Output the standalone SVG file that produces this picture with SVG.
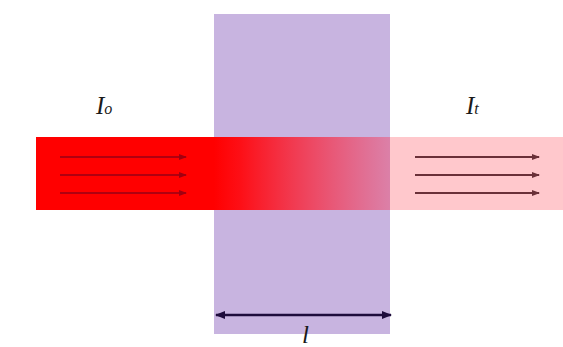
<svg xmlns="http://www.w3.org/2000/svg" width="563" height="347" viewBox="0 0 563 347">
<defs>
<linearGradient id="fade" x1="214" y1="0" x2="390" y2="0" gradientUnits="userSpaceOnUse">
<stop offset="0" stop-color="#ff0000" stop-opacity="1"/>
<stop offset="0.15" stop-color="#ff0a10" stop-opacity="0.97"/>
<stop offset="1" stop-color="#ff2040" stop-opacity="0.35"/>
</linearGradient>
<marker id="ahL" markerWidth="8" markerHeight="6" refX="7" refY="3" orient="auto" markerUnits="userSpaceOnUse"><path d="M0,0 L8,3 L0,6 Z" fill="#a00010"/></marker>
<marker id="ahR" markerWidth="8" markerHeight="6" refX="7" refY="3" orient="auto" markerUnits="userSpaceOnUse"><path d="M0,0 L8,3 L0,6 Z" fill="#6a3038"/></marker>
<marker id="ahD" markerWidth="10" markerHeight="8" refX="9" refY="4" orient="auto-start-reverse" markerUnits="userSpaceOnUse"><path d="M0,0 L10,4 L0,8 Z" fill="#1e0c3c"/></marker>
</defs>
<style>
.lab{font-family:"Liberation Serif",serif;font-style:italic;font-size:25px;fill:#1a1a1a}
.sub{font-size:16px}
.al{stroke:#b00010;stroke-width:2;marker-end:url(#ahL)}
.ar{stroke:#6a3038;stroke-width:2;marker-end:url(#ahR)}
</style>
<rect width="563" height="347" fill="#ffffff"/>
<g id="slab"><rect x="214" y="14" width="176" height="320" fill="#c8b4e0"/></g>
<g id="beam-in"><rect x="36" y="137" width="178" height="73" fill="#ff0000"/></g>
<g id="beam-slab"><rect x="214" y="137" width="176" height="73" fill="url(#fade)"/></g>
<g id="beam-out"><rect x="390" y="137" width="173" height="73" fill="#ffc8cc"/></g>
<g id="connectors">
<line class="al" x1="60" y1="157" x2="186" y2="157"/>
<line class="al" x1="60" y1="175" x2="186" y2="175"/>
<line class="al" x1="60" y1="193" x2="186" y2="193"/>
<line class="ar" x1="415" y1="157" x2="539" y2="157"/>
<line class="ar" x1="415" y1="175" x2="539" y2="175"/>
<line class="ar" x1="415" y1="193" x2="539" y2="193"/>
<line x1="216" y1="315" x2="391" y2="315" stroke="#1e0c3c" stroke-width="2.5" marker-start="url(#ahD)" marker-end="url(#ahD)"/>
</g>
<g id="label-I0"><text class="lab" x="96" y="114">I<tspan class="sub">o</tspan></text></g>
<g id="label-It"><text class="lab" x="466" y="114">I<tspan class="sub">t</tspan></text></g>
<g id="label-l"><text class="lab" x="302" y="343">l</text></g>
</svg>
